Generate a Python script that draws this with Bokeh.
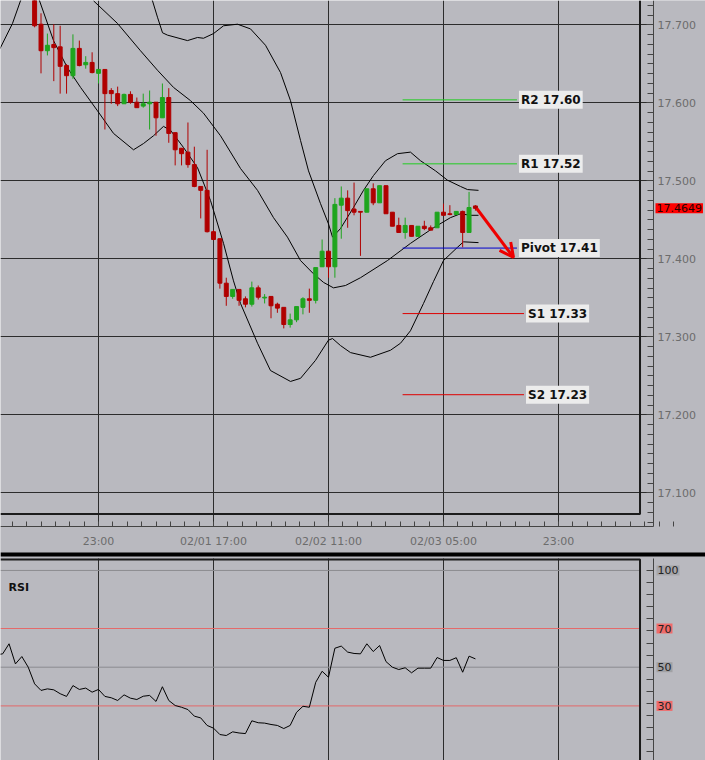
import numpy as np
from bokeh.plotting import figure
from bokeh.models import (ColumnDataSource, FixedTicker, SingleIntervalTicker, NumeralTickFormatter,
                          Range1d, Label, Arrow, OpenHead, CustomJSTickFormatter, LinearAxis, Grid)
from bokeh.embed import file_html
from bokeh.resources import INLINE

# ---------------- data ----------------
# hour offsets relative to 02/01 17:00
hours = list(range(-28, 42))
opens = [17.744, 17.701, 17.667, 17.675, 17.672, 17.648, 17.635, 17.670, 17.649, 17.652,
         17.638, 17.643, 17.616, 17.612, 17.599, 17.611, 17.601, 17.596, 17.599, 17.601,
         17.581, 17.607, 17.562, 17.542, 17.537, 17.521, 17.493, 17.488, 17.435, 17.426,
         17.369, 17.352, 17.361, 17.349, 17.342, 17.363, 17.350, 17.352, 17.342, 17.338,
         17.316, 17.322, 17.338, 17.349, 17.347, 17.390, 17.410, 17.390, 17.469, 17.478,
         17.464, 17.461, 17.460, 17.490, 17.472, 17.494, 17.460, 17.443, 17.434, 17.443,
         17.429, 17.442, 17.440, 17.440, 17.460, 17.458, 17.457, 17.461, 17.434, 17.468]
highs = [17.757, 17.715, 17.689, 17.701, 17.699, 17.650, 17.688, 17.680, 17.660, 17.665,
         17.643, 17.643, 17.619, 17.621, 17.612, 17.615, 17.607, 17.612, 17.616, 17.601,
         17.625, 17.619, 17.562, 17.542, 17.575, 17.544, 17.493, 17.540, 17.437, 17.426,
         17.376, 17.361, 17.361, 17.352, 17.371, 17.366, 17.355, 17.352, 17.344, 17.338,
         17.330, 17.339, 17.351, 17.362, 17.389, 17.425, 17.410, 17.478, 17.493, 17.488,
         17.498, 17.461, 17.490, 17.497, 17.494, 17.494, 17.460, 17.453, 17.453, 17.443,
         17.442, 17.449, 17.443, 17.460, 17.471, 17.469, 17.461, 17.462, 17.486, 17.469]
lows = [17.697, 17.638, 17.661, 17.628, 17.612, 17.612, 17.631, 17.647, 17.644, 17.638,
        17.625, 17.566, 17.599, 17.596, 17.599, 17.599, 17.594, 17.594, 17.566, 17.558,
        17.581, 17.549, 17.520, 17.520, 17.517, 17.492, 17.452, 17.434, 17.424, 17.362,
        17.340, 17.349, 17.340, 17.338, 17.339, 17.348, 17.343, 17.324, 17.331, 17.311,
        17.312, 17.319, 17.329, 17.331, 17.343, 17.390, 17.376, 17.376, 17.426, 17.440,
        17.456, 17.404, 17.460, 17.469, 17.472, 17.458, 17.442, 17.434, 17.426, 17.429,
        17.429, 17.437, 17.437, 17.440, 17.456, 17.456, 17.457, 17.415, 17.434, 17.462]
closes = [17.699, 17.667, 17.674, 17.671, 17.647, 17.635, 17.670, 17.648, 17.652, 17.639,
          17.643, 17.612, 17.612, 17.599, 17.611, 17.601, 17.594, 17.599, 17.601, 17.581,
          17.607, 17.561, 17.540, 17.535, 17.521, 17.493, 17.488, 17.435, 17.425, 17.369,
          17.352, 17.361, 17.347, 17.342, 17.363, 17.351, 17.351, 17.340, 17.337, 17.316,
          17.322, 17.339, 17.349, 17.347, 17.389, 17.410, 17.390, 17.470, 17.478, 17.462,
          17.460, 17.460, 17.490, 17.472, 17.494, 17.458, 17.442, 17.434, 17.443, 17.429,
          17.442, 17.439, 17.437, 17.460, 17.456, 17.457, 17.461, 17.434, 17.466, 17.4649]

# Bollinger bands
upper_hours = [-11.4, -9.55, -8.77, -7.98, -7.20, -4.07, -2.50, -1.57, 0.0, 1.57, 3.76, 5.79,
               8.14, 10.49, 12.05, 13.62, 14.87, 16.75, 18.0, 18.63, 19.88, 21.91, 23.48,
               25.04, 26.92, 28.80, 30.83, 32.40, 34.75, 36.63, 38.66, 39.76, 41.48]
upper_vals = [17.757, 17.731, 17.710, 17.690, 17.687, 17.680, 17.684, 17.683, 17.689, 17.699,
              17.701, 17.695, 17.674, 17.639, 17.603, 17.552, 17.513, 17.471, 17.445, 17.428,
              17.439, 17.466, 17.488, 17.507, 17.526, 17.535, 17.537, 17.526, 17.513, 17.501,
              17.493, 17.489, 17.488]
middle_hours = [-18.78, -15.03, -11.43, -8.77, -6.26, -3.60, -1.57, 1.10, 4.23, 6.89, 9.39,
                11.58, 13.62, 15.65, 17.22, 18.78, 20.66, 23.01, 27.23, 30.83, 34.43, 37.09,
                38.66, 40.22, 41.48]
middle_vals = [17.731, 17.702, 17.667, 17.642, 17.620, 17.603, 17.587, 17.558, 17.516, 17.488,
               17.453, 17.428, 17.398, 17.381, 17.370, 17.363, 17.366, 17.376, 17.398, 17.420,
               17.440, 17.453, 17.458, 17.456, 17.456]
lower_hours = [-34.5, -33.34, -31.46, -30.21, -28.8, -27.23, -25.04, -22.85, -20.81, -18.16, -15.65,
               -12.52, -10.96, -9.39, -7.83, -6.73, -4.70, -2.50, -0.47, 1.57, 3.13, 4.23,
               6.89, 8.92, 12.05, 13.62, 15.96, 18.0, 18.63, 19.88, 21.44, 24.57, 27.70,
               29.27, 30.83, 32.87, 34.43, 36.0, 38.19, 39.13, 41.48]
lower_vals = [17.655, 17.671, 17.702, 17.731, 17.751, 17.731, 17.680, 17.645, 17.620, 17.590, 17.561,
              17.540, 17.548, 17.558, 17.570, 17.565, 17.543, 17.517, 17.475, 17.420, 17.372,
              17.343, 17.292, 17.257, 17.243, 17.247, 17.270, 17.296, 17.298, 17.289, 17.280,
              17.274, 17.283, 17.292, 17.308, 17.343, 17.371, 17.398, 17.415, 17.422, 17.421]

# pivot levels
pivot_names = ["R2", "R1", "Pivot", "S1", "S2"]
pivot_vals = [17.604, 17.522, 17.414, 17.330, 17.226]
pivot_colors = ["#22cc22", "#22cc22", "#0000cc", "#dd0000", "#dd0000"]
pivot_start = 29.6
pivot_end = [47.5, 47.5, 47.5, 48.6, 48.6]

last_price = 17.4649
arrow_from = (41.2, 17.4647)
arrow_to = (46.96, 17.402)

# time axis
tick_hours = [-36, -18, 0, 18, 36, 54]
tick_labels = ["01/31 05:00", "23:00", "02/01 17:00", "02/02 11:00", "02/03 05:00", "23:00"]

# RSI
rsi_hours = list(range(-34, 42))
rsi_vals = [56.4, 56.9, 62.1, 51.7, 55.5, 50.0, 41.4, 38.0, 38.8, 38.3,
            36.3, 34.9, 40.5, 38.5, 39.2, 37.1, 38.5, 34.9, 34.2, 32.8,
            35.7, 34.0, 33.3, 35.0, 35.4, 32.3, 39.9, 32.8, 30.2, 29.3,
            28.1, 24.7, 23.8, 19.9, 18.5, 15.2, 14.7, 16.6, 16.0, 15.7,
            22.3, 21.3, 21.1, 20.4, 19.9, 18.3, 19.9, 26.7, 29.8, 29.3,
            42.2, 47.9, 44.8, 59.8, 60.9, 57.8, 57.1, 56.9, 62.1, 58.1,
            61.2, 52.9, 50.0, 48.8, 49.7, 47.1, 49.5, 49.5, 49.5, 55.0,
            53.5, 53.5, 54.9, 47.4, 55.7, 54.3]
rsi_levels = [100, 70, 50, 30]
rsi_level_colors = ["#8c8c90", "#e46a6a", "#8c8c90", "#e46a6a"]
rsi_label_bg = ["#a6a6aa", "#f06a6a", "#a0a0a4", "#f06a6a"]

# ---------------- style / layout ----------------
BG = "#b9b9bf"
GRID = "#2c2c2c"
FRAME = "#1c1c1c"
AXIS_TXT = "#6c6c6c"
AXIS_LINE = "#444444"
RED = "#b00000"
GREEN = "#1ea51e"
FONT = "DejaVu Sans"

W, H = 705, 760
PX_PER_PRICE = 780.0          # vertical scale of the price panel
PRICE_TOP = 17.7314           # price at the top edge of the page
RSI_50_PX, PX_PER_RSI = 666.7, 1.935


def price_at(px):
    return PRICE_TOP - px / PX_PER_PRICE


def rsi_at(px):
    return 50 + (RSI_50_PX - px) / PX_PER_RSI


X_LEFT, X_RIGHT = -33.34, 77.01      # full page width in hours
X_AXIS, X_INNER = 68.87, 66.76       # price axis line, inner frame border
Y_AX = price_at(526)                 # x axis line
Y_INNER = price_at(513.5)            # inner frame bottom
R_TOP = rsi_at(559)                  # rsi frame top border

colors = [GREEN if c >= o else RED for o, c in zip(opens, closes)]
src = ColumnDataSource(dict(
    t=hours, o=opens, h=highs, l=lows, c=closes,
    top=[max(o, c) for o, c in zip(opens, closes)],
    bot=[min(o, c) for o, c in zip(opens, closes)],
    color=colors))

p = figure(width=W, height=H, x_range=Range1d(X_LEFT, X_RIGHT),
           y_range=Range1d(price_at(H), PRICE_TOP),
           x_axis_location=None, y_axis_location=None, output_backend="svg", toolbar_location=None,
           min_border_left=0, min_border_top=0, min_border_right=0, min_border_bottom=0,
           background_fill_color=BG, border_fill_color=BG, outline_line_color=None)
p.extra_y_ranges = {"rsi": Range1d(rsi_at(H), rsi_at(0))}
p.center = [c for c in p.center if not isinstance(c, Grid)]

# ---- axes ----
xt = FixedTicker(ticks=tick_hours, minor_ticks=list(np.arange(-36, 72.01, 2.25)))
xa = LinearAxis(fixed_location=Y_AX, ticker=xt, bounds=(X_LEFT, X_AXIS),
                major_label_overrides=dict(zip(tick_hours, tick_labels)),
                major_tick_in=0, major_tick_out=0, minor_tick_in=5, minor_tick_out=0,
                major_label_standoff=8, axis_line_color=AXIS_LINE, minor_tick_line_color=AXIS_LINE,
                major_label_text_color=AXIS_TXT, major_label_text_font=FONT,
                major_label_text_font_size="11px")
p.add_layout(xa, "below")

yt = SingleIntervalTicker(interval=0.1, num_minor_ticks=8)
ya = LinearAxis(fixed_location=X_AXIS, ticker=yt, formatter=NumeralTickFormatter(format="0.000"),
                bounds=(Y_AX, PRICE_TOP),
                major_tick_in=7, major_tick_out=0, minor_tick_in=6, minor_tick_out=0,
                major_label_standoff=4, axis_line_color=AXIS_LINE, major_tick_line_color=AXIS_LINE,
                minor_tick_line_color=AXIS_LINE, major_label_text_color=AXIS_TXT,
                major_label_text_font=FONT, major_label_text_font_size="11px")
p.add_layout(ya, "right")

ra = LinearAxis(fixed_location=X_AXIS, y_range_name="rsi",
                ticker=FixedTicker(ticks=[6.25 * k for k in range(17)]),
                formatter=CustomJSTickFormatter(code="return ''"), bounds=(rsi_at(H), rsi_at(558)),
                major_tick_in=7, major_tick_out=0, minor_tick_line_color=None,
                axis_line_color=AXIS_LINE, major_tick_line_color=AXIS_LINE)
p.add_layout(ra, "right")

p.add_layout(Grid(dimension=0, ticker=xt, grid_line_color=GRID))
p.add_layout(Grid(dimension=1, ticker=yt, bounds=(Y_AX, PRICE_TOP), grid_line_color=GRID))

# cover grid to the right of the price axis, and the gap between the panels
p.quad(left=[X_AXIS], right=[X_RIGHT], bottom=[Y_AX], top=[PRICE_TOP], fill_color=BG, line_color=None)
p.quad(left=[X_LEFT], right=[X_RIGHT], bottom=[price_at(558)], top=[Y_AX], fill_color=BG, line_color=None)
p.quad(left=[X_LEFT], right=[X_RIGHT], bottom=[price_at(556)], top=[price_at(552)],
       fill_color="black", line_color=None)

# inner frame (right and bottom borders)
p.line([X_LEFT, X_INNER, X_INNER], [Y_INNER, Y_INNER, PRICE_TOP], line_color=FRAME, line_width=2)

# bands
p.line(upper_hours, upper_vals, line_color="black", line_width=1)
p.line(middle_hours, middle_vals, line_color="black", line_width=1)
p.line(lower_hours, lower_vals, line_color="black", line_width=1)

# candles
p.segment(x0="t", x1="t", y0="h", y1="l", line_color="color", line_width=1, source=src)
p.vbar(x="t", width=0.62, top="top", bottom="bot", fill_color="color", line_color="color",
       line_width=1, source=src)

# pivots
p.segment(x0=[pivot_start] * len(pivot_vals), x1=pivot_end, y0=pivot_vals, y1=pivot_vals,
          line_color=pivot_colors, line_width=1)
for name, v, xe in zip(pivot_names, pivot_vals, pivot_end):
    p.add_layout(Label(x=xe, y=v, text=f"{name} {v:.2f}", text_font=FONT, text_font_style="bold",
                       text_font_size="12px", text_color="#111111", text_align="left",
                       text_baseline="middle", x_offset=2, background_fill_color="#ececec",
                       padding=2))

p.add_layout(Arrow(end=OpenHead(line_color="#ee0000", line_width=3, size=14),
                   x_start=arrow_from[0], y_start=arrow_from[1], x_end=arrow_to[0], y_end=arrow_to[1],
                   line_color="#ee0000", line_width=3))

p.add_layout(Label(x=X_AXIS, y=last_price, text=f"{last_price:.4f}", x_offset=2, text_font=FONT,
                   text_font_size="11px", text_color="#260000", text_baseline="middle",
                   background_fill_color="#ff0000", padding=1))

# ---------------- RSI panel ----------------
p.segment(x0=[X_LEFT] * 4, x1=[X_INNER] * 4, y0=rsi_levels, y1=rsi_levels,
          line_color=rsi_level_colors, line_width=1, y_range_name="rsi")
p.line([X_LEFT, X_INNER, X_INNER], [R_TOP, R_TOP, rsi_at(H)], line_color=FRAME, line_width=2,
       y_range_name="rsi")
p.line(rsi_hours, rsi_vals, line_color="black", line_width=1, y_range_name="rsi")
for lv, bg in zip(rsi_levels, rsi_label_bg):
    p.add_layout(Label(x=X_AXIS, y=lv, y_range_name="rsi", text=str(lv), x_offset=3, text_font=FONT,
                       text_font_size="11px", text_color="#222222", text_baseline="middle",
                       background_fill_color=bg, padding=1))
p.add_layout(Label(x=X_LEFT, y=rsi_at(587), y_range_name="rsi", text="RSI", x_offset=8, text_font=FONT,
                   text_font_style="bold", text_font_size="11px", text_color="#111111",
                   text_baseline="middle"))

open("out.html", "w").write(file_html(p, INLINE))
